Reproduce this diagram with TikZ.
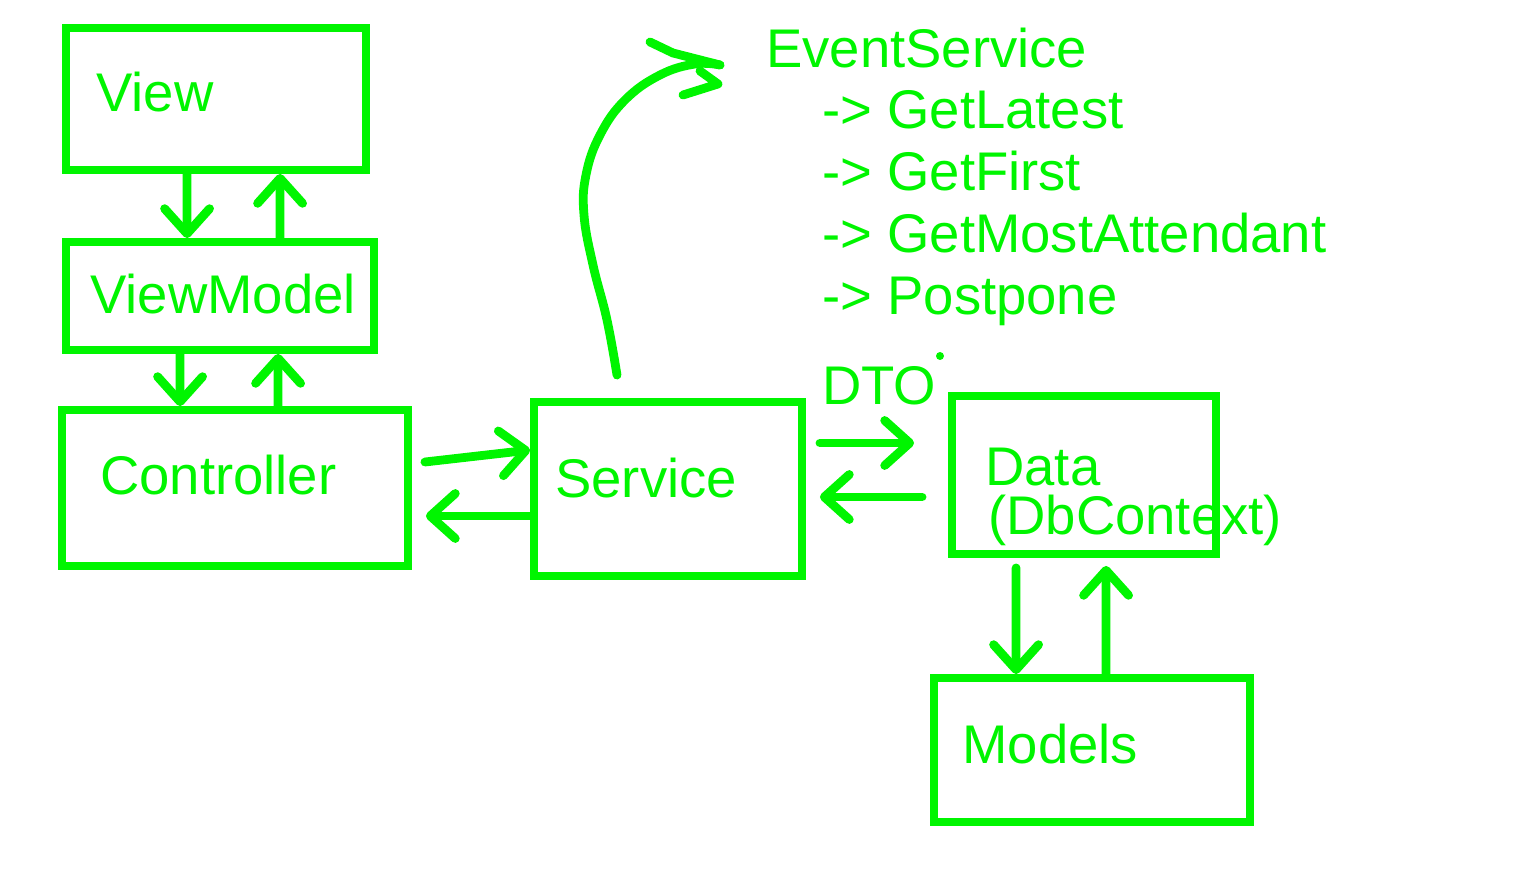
\documentclass[tikz,border=0pt]{standalone}
\usepackage{fontspec}
\setmainfont{Liberation Sans}
\usetikzlibrary{arrows.meta,calc}
\definecolor{hg}{RGB}{0,245,0}
\begin{document}
\begin{tikzpicture}[x=0.02cm,y=-0.02cm,
  box/.style={draw=hg,line width=4.5pt,inner sep=0pt,minimum width=#1},
  arr/.style={draw=hg,line width=5pt,line cap=round,-{Straight Barb[length=0.5cm,width=0.9cm,line cap=round,line join=round]}},
  lbl/.style={text=hg,anchor=base west,inner sep=0pt,font=\fontsize{31}{36}\selectfont},
  pen/.style={draw=hg,line width=5pt,line cap=round,line join=round}]
\useasboundingbox (0,0) rectangle (1539,878);
% boxes
\node[box=6cm,minimum height=2.84cm] (view) at (216,99) {};
\node[box=6.16cm,minimum height=2.16cm] (vm) at (220,296) {};
\node[box=6.92cm,minimum height=3.12cm] (ctrl) at (235,488) {};
\node[box=5.36cm,minimum height=3.48cm] (svc) at (668,489) {};
\node[box=5.28cm,minimum height=3.16cm] (data) at (1084,475) {};
\node[box=6.32cm,minimum height=2.88cm] (models) at (1092,750) {};
% labels
\node[lbl] (tview) at (96,112) {View};
\node[lbl] (tvm) at (90,314) {ViewModel};
\node[lbl] (tctrl) at (100,495) {Controller};
\node[lbl] (tsvc) at (555,498) {Service};
\node[lbl] (tdata) at (985,486) {Data};
\node[lbl] (tdb) at (988,535) {(DbContext)};
\node[lbl] (tmodels) at (962,763) {Models};
\node[lbl] (tdto) at (822,405) {DTO};
\node[lbl] (tev) at (766,68) {EventService};
\node[lbl] (t1) at (822,129) {-> GetLatest};
\node[lbl] (t2) at (822,191) {-> GetFirst};
\node[lbl] (t3) at (822,253) {-> GetMostAttendant};
\node[lbl] (t4) at (822,315) {-> Postpone};
\fill[hg] (940,356) circle[radius=4];
% vertical arrows
\draw[arr] ($(view.south west)+(125,0)$) -- ($(vm.north west)+(125,0)$);
\draw[arr] ($(vm.north west)+(218,0)$) -- ($(view.south west)+(218,0)$);
\draw[arr] ($(vm.south west)+(118,0)$) -- ($(ctrl.north west)+(122,0)$);
\draw[arr] ($(ctrl.north west)+(220,0)$) -- ($(vm.south west)+(216,0)$);
% horizontal arrows
\draw[arr] ($(ctrl.east)+(13,-26)$) -- ($(svc.west)+(0,-39)$);
\draw[arr] ($(svc.west)+(0,27)$) -- ($(ctrl.east)+(14,28)$);
\draw[arr] ($(svc.east)+(14,-46)$) -- ($(data.west)+(-34,-32)$);
\draw[arr] ($(data.west)+(-26,22)$) -- ($(svc.east)+(14,8)$);
% data <-> models
\draw[arr] ($(data.south west)+(68,10)$) -- ($(models.north west)+(86,0)$);
\draw[arr] ($(models.north west)+(176,0)$) -- ($(data.south west)+(158,8)$);
% curved hand arrow to EventService
\coordinate (cstart) at ($(svc.north)+(-51,-23)$);
\coordinate (ctip) at (720,65);
\draw[pen] plot[smooth,tension=0.7] coordinates {(cstart) (607,320) (593,265) (584,215) (586,175) (600,135) (625,100) (660,75) (695,64) (ctip)};
\draw[pen] (650,42) -- (673,53) -- (ctip);
\draw[pen] (683,95) -- (718,84) -- (700,71);
\end{tikzpicture}
\end{document}
